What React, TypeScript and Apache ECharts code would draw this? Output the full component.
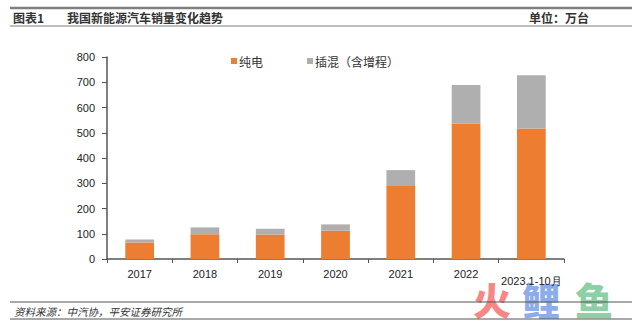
import React, { useEffect, useRef } from "react";
import * as echarts from "echarts";

const categories = ["2017", "2018", "2019", "2020", "2021", "2022", "2023.1-10月"];
const bevValues = [65, 98, 97, 112, 292, 537, 517];
const phevValues = [12, 27, 23, 25, 60, 152, 211];
const yTicks = [0, 100, 200, 300, 400, 500, 600, 700, 800];
const seriesNames = ["纯电", "插混（含增程）"];

const CN = "Noto Sans CJK SC";
const NUM = "Liberation Sans";

export default function App() {
  const ref = useRef<HTMLDivElement>(null);
  useEffect(() => {
    document.body.style.margin = "0";
    const chart = echarts.init(ref.current!, null, { renderer: "svg" });
    const txt = (x: number, y: number, text: string, size: number, weight: any, fill: string, extra: any = {}) => ({
      type: "text",
      x,
      y,
      style: { text, fontFamily: CN, fontSize: size, fontWeight: weight, fill, verticalAlign: "middle", ...extra },
    });
    chart.setOption({
      animation: false,
      backgroundColor: "#ffffff",
      grid: { left: 107, right: 76, top: 57, bottom: 67 },
      legend: {
        data: [
          { name: seriesNames[0], itemStyle: { color: "#ED7D31" } },
          { name: seriesNames[1], itemStyle: { color: "#AFAFAF" } },
        ],
        left: 226,
        top: 50,
        itemWidth: 6,
        itemHeight: 6,
        itemGap: 44,
        icon: "rect",
        textStyle: { fontFamily: CN, fontSize: 12, color: "#333", padding: [0, 0, 0, -3] },
      },
      xAxis: {
        type: "category",
        data: categories.map((c, i) =>
          i === categories.length - 1
            ? { value: c, textStyle: { padding: [7, 0, 0, 0] } }
            : c
        ),
        axisLine: { lineStyle: { color: "#555", width: 1.5 } },
        axisTick: { show: true, length: 4, inside: false, lineStyle: { color: "#555" } },
        axisLabel: { fontFamily: NUM, fontSize: 11, color: "#222", margin: 9, interval: 0 },
      },
      yAxis: {
        type: "value",
        min: yTicks[0],
        max: yTicks[yTicks.length - 1],
        interval: 100,
        splitLine: { show: false },
        axisLine: { show: true, lineStyle: { color: "#555", width: 1.5 } },
        axisTick: { show: true, length: 5, lineStyle: { color: "#555" } },
        axisLabel: { fontFamily: NUM, fontSize: 11, color: "#222", margin: 12 },
      },
      series: [
        {
          name: seriesNames[0],
          type: "bar",
          stack: "total",
          data: bevValues,
          barWidth: "44%",
          itemStyle: { color: "#ED7D31" },
        },
        {
          name: seriesNames[1],
          type: "bar",
          stack: "total",
          data: phevValues,
          barWidth: "44%",
          itemStyle: { color: "#AFAFAF" },
        },
      ],
      graphic: [
        { type: "line", shape: { x1: 10, y1: 8, x2: 632, y2: 8 }, style: { stroke: "#7f7f7f", lineWidth: 2.5 } },
        { type: "line", shape: { x1: 10, y1: 26, x2: 632, y2: 26 }, style: { stroke: "#7f7f7f", lineWidth: 1.2 } },
        txt(13, 17, "图表1", 12, "bold", "#333"),
        txt(67, 17, "我国新能源汽车销量变化趋势", 12, "bold", "#333"),
        txt(529, 17, "单位：万台", 12, "bold", "#333"),
        txt(473, 298, "火", 38, 900, "rgba(248,100,100,0.8)"),
        txt(522, 298, "鲤", 38, 900, "rgba(110,150,230,0.8)"),
        txt(575, 298, "鱼", 38, 900, "rgba(110,195,140,0.8)"),
        { type: "line", shape: { x1: 10, y1: 302, x2: 632, y2: 302 }, style: { stroke: "#555", lineWidth: 1.2 } },
        { type: "line", shape: { x1: 10, y1: 319, x2: 632, y2: 319 }, style: { stroke: "#555", lineWidth: 1.2 } },
        txt(14, 311, "资料来源：中汽协，平安证券研究所", 10.5, "normal", "#333", { fontStyle: "italic" }),
      ],
    });
    return () => chart.dispose();
  }, []);
  return <div ref={ref} style={{ position: "absolute", left: 0, top: 0, width: 640, height: 326 }} />;
}
